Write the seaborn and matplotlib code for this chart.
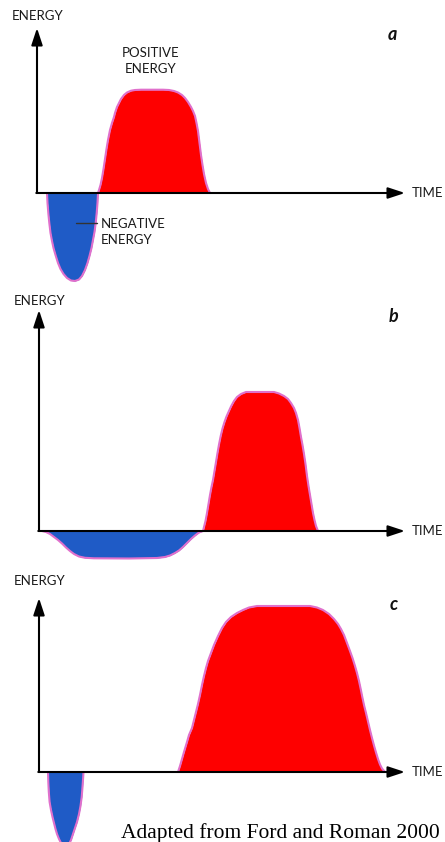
import matplotlib
matplotlib.use('Agg')
import matplotlib.pyplot as plt
import seaborn as sns
import pandas as pd

# --- data: pulse outlines (time, energy), arbitrary units ---
# panel a
neg_t_a = [10, 10.5, 11.3, 12.3, 13.5, 15, 16.5, 18.5, 21, 23.5, 26.5, 30, 34, 38, 42, 45, 48,
           50.5, 52.5, 54.5, 56, 57.5, 58.7, 59.7, 60.5, 61]
neg_e_a = [0, -10, -20, -30, -40, -48, -55, -62, -70, -76, -81, -85, -87.5, -88, -86.5, -83, -77,
           -70, -63, -55, -47, -39, -30, -20, -10, 0]
pos_t_a = [61, 62, 63.5, 65, 66.5, 68, 69.5, 71, 73, 75, 77, 78, 80, 82, 84, 87, 90, 94, 98, 104,
           126, 132, 137, 141, 145, 148, 151, 154, 156, 158, 159.5, 161, 162.5, 164, 165.5, 167,
           169, 171, 173]
pos_e_a = [0, 3, 8, 15, 24, 34, 44, 53, 63, 70, 76, 80, 86, 90, 94, 98, 100.5, 102.3, 103, 103.3,
           103.3, 103, 102, 100.5, 98, 95, 91, 86, 82, 77, 70, 62, 50, 38, 28, 19,
           10, 4, 0]

# panel b
neg_t_b = [3, 7, 11, 15, 19, 23, 27, 31, 35, 40, 46, 55, 90, 118, 126, 131, 136, 140, 144, 148,
           152, 156, 160, 164]
neg_e_b = [0, -1, -3, -6, -9, -12.5, -16.5, -20, -23, -25.5, -26.8, -27.3, -27.5, -27, -26, -24.5,
           -22, -19.5, -16, -12, -8, -4.5, -1.5, 0]
pos_t_b = [164, 165, 166.5, 168, 169.5, 171, 172.5, 174, 175.5, 177, 178.5, 180, 181.7, 183.5,
           185.5, 187.5, 189.5, 192, 195, 198, 202, 207, 235, 240, 245, 249, 252, 255, 257, 259,
           260.5, 262, 263.5, 265, 266.5, 268, 269.5, 271, 272.5, 274, 275.5, 277, 279]
pos_e_b = [0, 4, 10, 18, 27, 36, 44, 51, 60, 69, 78, 86.5, 95, 102.5,
           109, 114.5, 119, 124.5, 130, 134, 137, 139, 139, 137.5, 135, 132, 128, 123, 118, 111,
           103, 94, 86, 77, 67, 55, 45, 36, 27, 18, 11, 5, 0]

# panel c
neg_t_c = [9, 9.3, 9.8, 10.6, 12, 13.5, 15, 16.5, 18, 20, 22.5, 26, 29.5, 32, 34, 36, 38, 40,
           41.5, 42.7, 43.5, 44.2, 44.5]
neg_e_c = [0, -10, -20, -30, -38, -45, -51, -57, -62, -67, -72, -76, -73, -68, -62, -56, -50, -42,
           -34, -25, -15, -5, 0]
pos_t_c = [139, 141, 143, 145, 148, 150, 153, 155, 157, 159, 161, 163, 165, 167, 169, 172, 175,
           179, 183, 187, 192, 198, 204, 210, 218, 265, 271, 278, 284, 290, 295, 299, 302, 305,
           308, 311, 313.5, 316, 318, 320, 321.7, 323.3, 325, 327, 329, 331, 333, 335, 337, 339,
           341, 343, 346]
pos_e_c = [0, 6, 13, 20, 30, 37, 44, 52, 60, 68, 77, 87, 96, 104, 111, 119, 127,
           136, 144, 150, 155, 159, 162, 164.5, 166, 166, 166, 164.5, 162, 158, 153, 148, 143, 137,
           129, 121, 114, 106, 99, 91, 83, 75, 67, 59, 50.5, 42, 34, 26.5, 19.5, 13,
           7.5, 3.5, 0]

panel_labels = ['a', 'b', 'c']
axis_x_label = 'TIME'
axis_y_label = 'ENERGY'
caption = 'Adapted from Ford and Roman 2000'

RED = '#fe0000'
BLUE = '#1f5bc6'
EDGE = '#e070cc'
INK = '#1a1a1a'

sns.set_theme(style='white')
plt.rcParams['font.family'] = ['Lato', 'DejaVu Sans']

W, H = 445, 842
fig = plt.figure(figsize=(W / 100, H / 100), dpi=100)

# pixel rows of each panel and origin of its axes (x, y) in pixels
layout = [
    dict(rows=(0, 285), origin=(37, 193), ytop=165, xend=368),
    dict(rows=(285, 565), origin=(39, 531), ytop=221, xend=366),
    dict(rows=(565, 842), origin=(39, 772), ytop=174, xend=366),
]
pulses = [
    (neg_t_a, neg_e_a, pos_t_a, pos_e_a),
    (neg_t_b, neg_e_b, pos_t_b, pos_e_b),
    (neg_t_c, neg_e_c, pos_t_c, pos_e_c),
]

for lay, (nt, ne, pt, pe), lab in zip(layout, pulses, panel_labels):
    top, bot = lay['rows']
    ox, oy = lay['origin']
    ax = fig.add_axes([0, 1 - bot / H, 1, (bot - top) / H])
    ax.set_xlim(-ox, W - ox)
    ax.set_ylim(oy - bot, oy - top)
    ax.set_axis_off()

    for t, e, col in [(nt, ne, BLUE), (pt, pe, RED)]:
        df = pd.DataFrame({'time': t, 'energy': e})
        ax.fill_between(df['time'], df['energy'], 0, color=col, lw=0, zorder=2)
        sns.lineplot(data=df, x='time', y='energy', sort=False, ax=ax,
                     color=EDGE, lw=1.5, zorder=3)

    arrow = dict(arrowstyle='-|>,head_length=0.85,head_width=0.28', lw=1.5,
                 color='black', shrinkA=0, shrinkB=0)
    ax.annotate('', xy=(0, lay['ytop']), xytext=(0, 0), arrowprops=arrow, zorder=5)
    ax.annotate('', xy=(lay['xend'], 0), xytext=(-0.7, 0), arrowprops=arrow, zorder=5)

    ax.text(0.5, oy - top - 16, axis_y_label, fontsize=9.5, ha='center', va='center', color=INK)
    ax.text(lay['xend'] + 7, 0, axis_x_label, fontsize=9.5, ha='left', va='center', color=INK)
    ax.text(355, lay['ytop'] - 7, lab, fontsize=13, fontweight='bold', fontstyle='italic',
            ha='center', va='center', color='#111111')

    if lab == 'a':
        ax.text(114, 132, 'POSITIVE\nENERGY', fontsize=9.5, ha='center', va='center',
                linespacing=1.35, color=INK)
        ax.plot([39, 60], [-30, -30], color='#333333', lw=1, zorder=4)
        ax.text(64, -39, 'NEGATIVE\nENERGY', fontsize=9.5, ha='left', va='center',
                linespacing=1.35, color=INK)
    if lab == 'c':
        ax.text(241, -61, caption, fontsize=15.5, family='Liberation Serif',
                ha='center', va='center', color='black')

fig.savefig('out.png', dpi=100)
